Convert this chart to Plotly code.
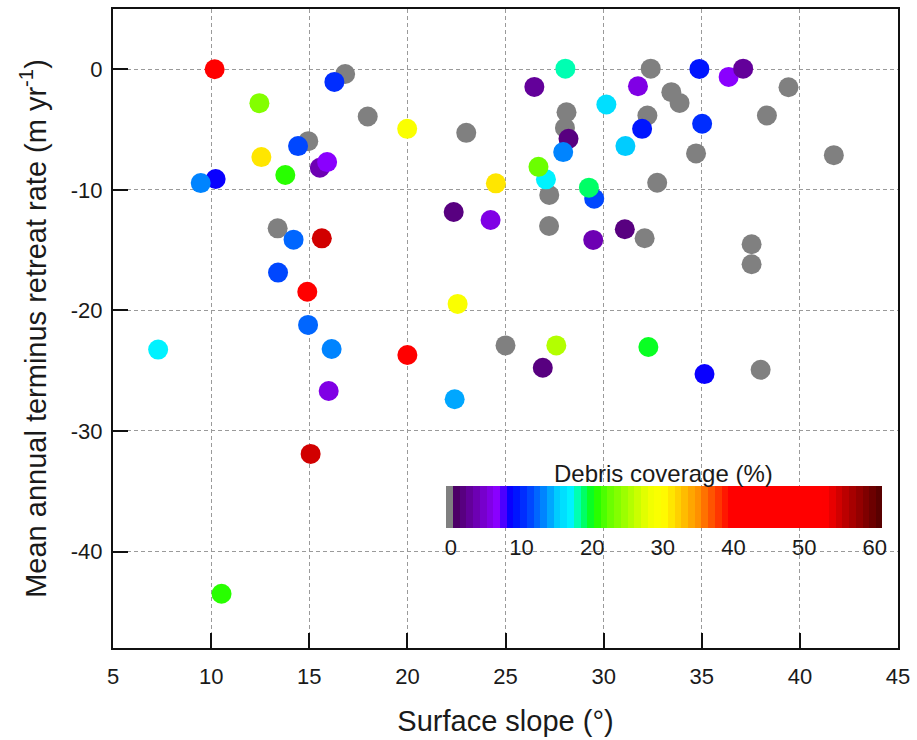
import plotly.graph_objects as go

# Glaciers without debris (drawn in grey)
clean_slope = [16.83, 17.98, 14.95, 13.39, 23.0, 28.11, 28.03, 27.23, 27.22, 32.09,
               32.40, 33.45, 33.87, 32.23, 32.73, 25.0, 39.42, 38.32, 34.71, 41.73,
               37.54, 37.54, 38.0]
clean_retreat = [-0.39, -3.92, -5.96, -13.19, -5.27, -3.56, -4.86, -10.43, -13.0, -14.01,
                 0.05, -1.9, -2.79, -3.83, -9.41, -22.9, -1.49, -3.83, -6.98, -7.12,
                 -14.51, -16.17, -24.92]

# Debris-covered glaciers
debris_slope = [10.18, 16.28, 12.46, 14.43, 12.56, 15.54, 15.91, 13.78, 10.23, 9.47,
                14.20, 15.64, 13.41, 14.90, 14.94, 7.30, 16.14, 20.0, 27.59, 26.9,
                32.28, 35.14, 15.99, 22.41, 15.07, 10.53, 19.99, 24.51, 22.56, 22.36,
                24.24, 26.47, 28.05, 28.21, 27.94, 27.06, 26.68, 29.52, 29.25, 29.47,
                31.08, 30.14, 31.75, 31.96, 31.11, 34.88, 35.02, 36.37, 37.11]
debris_retreat = [0.0, -1.05, -2.81, -6.37, -7.28, -8.17, -7.70, -8.77, -9.10, -9.44,
                  -14.13, -14.02, -16.86, -18.45, -21.2, -23.25, -23.2, -23.7, -22.9, -24.76,
                  -23.03, -25.28, -26.68, -27.37, -31.9, -43.5, -4.94, -9.46, -19.46, -11.84,
                  -12.5, -1.46, 0.05, -5.77, -6.87, -9.13, -8.09, -10.73, -9.82, -14.15,
                  -13.27, -2.92, -1.41, -4.94, -6.37, 0.03, -4.52, -0.63, 0.05]
debris_cover = [45, 10, 23.5, 11, 31, 4, 6.5, 21, 8.5, 13,
                12.5, 55, 11.5, 45, 12, 16.5, 13.5, 44, 25, 1.5,
                19.3, 8, 6, 14.5, 55, 21, 29, 31, 29, 1.5,
                6, 3, 18.2, 2, 13.5, 16.5, 22.3, 11, 18.5, 3.5,
                2, 15.5, 6, 9, 15, 9, 10.5, 6.5, 3]

x_ticks = [5, 10, 15, 20, 25, 30, 35, 40, 45]
y_ticks = [0, -10, -20, -30, -40]
cbar_ticks = [0, 10, 20, 30, 40, 50, 60]

CMIN, CMAX = -0.7, 61.0
GREY_END = 0.3
# (value, colour) anchors of the debris colour ramp
anchors = [
    (0.3, "#48005a"), (3.5, "#6c00b0"), (6.5, "#8a00ff"), (7.6, "#4000ff"),
    (8.5, "#0000ff"), (11.0, "#0040ff"), (13.5, "#0090ff"), (15.0, "#00ccff"),
    (17.0, "#00f4ff"), (17.7, "#00ffc0"), (18.5, "#00ff80"), (19.5, "#00ff30"),
    (20.5, "#20ff00"), (22.2, "#60ff00"), (25.0, "#a8ff00"), (28.0, "#f0ff00"),
    (30.0, "#ffff00"), (32.0, "#ffd400"), (35.0, "#ff9000"), (38.0, "#ff3000"),
    (39.5, "#ff0000"), (53.0, "#ff0000"), (56.0, "#b80000"), (61.0, "#500000"),
]


def hex_rgb(h):
    h = h.lstrip("#")
    return tuple(int(h[i:i + 2], 16) for i in (0, 2, 4))


def ramp(v):
    for (v0, c0), (v1, c1) in zip(anchors[:-1], anchors[1:]):
        if v0 <= v <= v1:
            t = 0.0 if v1 == v0 else (v - v0) / (v1 - v0)
            a, b = hex_rgb(c0), hex_rgb(c1)
            return "rgb(%d,%d,%d)" % tuple(round(a[i] + (b[i] - a[i]) * t) for i in range(3))
    return anchors[-1][1]


def norm(v):
    return (v - CMIN) / (CMAX - CMIN)


# Stepped (banded) colour scale: grey for zero debris, then ~1 % wide bands
BAND = 0.95
colorscale = [[0.0, "#808080"], [norm(GREY_END), "#808080"]]
lo = GREY_END
while lo < CMAX - 1e-9:
    hi = min(lo + BAND, CMAX)
    col = ramp((lo + hi) / 2)
    colorscale.append([norm(lo), col])
    colorscale.append([norm(hi), col])
    lo = hi
colorscale[-1][0] = 1.0

FONT = "Liberation Sans, Arial, Helvetica, sans-serif"
TXT = "#1a1a1a"

fig = go.Figure()

fig.add_trace(go.Scatter(
    x=clean_slope, y=clean_retreat, mode="markers",
    marker=dict(size=20, color="#808080", line=dict(width=0)),
    showlegend=False, hoverinfo="x+y",
))

fig.add_trace(go.Scatter(
    x=debris_slope, y=debris_retreat, mode="markers",
    marker=dict(
        size=20, color=debris_cover, colorscale=colorscale,
        cmin=CMIN, cmax=CMAX, line=dict(width=0),
        showscale=True,
        colorbar=dict(
            orientation="h", x=0.7018, xanchor="center", y=0.2543, yanchor="top",
            len=436, lenmode="pixels", thickness=42, thicknessmode="pixels",
            xpad=0, ypad=0, outlinewidth=0, ticks="", ticklen=0,
            tickvals=cbar_ticks, ticktext=[str(t) for t in cbar_ticks],
            tickfont=dict(family=FONT, size=22, color=TXT),
        ),
    ),
    showlegend=False, hoverinfo="x+y",
))

fig.add_annotation(
    text="Debris coverage (%)", xref="paper", yref="paper",
    x=0.7018, y=0.273, xanchor="center", yanchor="middle", showarrow=False,
    font=dict(family=FONT, size=24, color=TXT),
)

axis_common = dict(
    showline=True, linecolor="#111111", linewidth=2, mirror=True,
    ticks="inside", ticklen=15, tickwidth=2, tickcolor="#111111",
    showgrid=True, gridcolor="#9a9a9a", gridwidth=1, griddash="4px,3px",
    zeroline=False, tickfont=dict(family=FONT, size=22, color=TXT),
)

fig.update_xaxes(
    range=[5, 45], tickvals=x_ticks, ticktext=[str(t) for t in x_ticks],
    title=dict(text="Surface slope (°)", font=dict(family=FONT, size=29, color=TXT), standoff=22),
    ticklabelstandoff=8,
    **axis_common,
)
fig.update_yaxes(
    range=[-48, 5], tickvals=y_ticks, ticktext=[str(t) for t in y_ticks],
    title=dict(text="Mean annual terminus retreat rate (m yr<sup>-1</sup>)",
               font=dict(family=FONT, size=29, color=TXT), standoff=16),
    ticklabelstandoff=4,
    **axis_common,
)

fig.update_layout(
    width=917, height=740,
    margin=dict(l=113, r=16, t=7, b=92),
    paper_bgcolor="white", plot_bgcolor="white",
    font=dict(family=FONT, color=TXT),
)

fig.write_html("out.html")
